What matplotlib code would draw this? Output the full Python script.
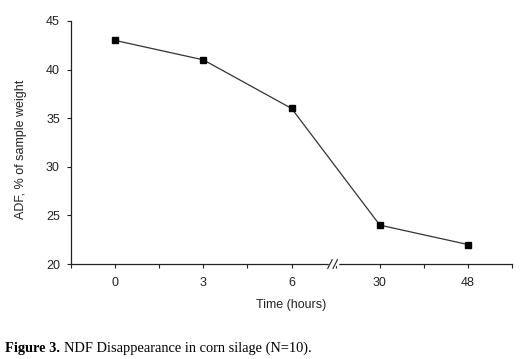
import numpy as np
import matplotlib.pyplot as plt

# data
hours = ['0', '3', '6', '30', '48']
adf = [43, 41, 36, 24, 22]

plt.rcParams['font.family'] = ['Liberation Sans', 'DejaVu Sans']

fig = plt.figure(figsize=(5.2, 3.59), dpi=100)
ax = fig.add_axes([0.1365, 0.2646, 0.8485, 0.677])

x = np.arange(len(hours))
ax.plot(x, adf, color='#333333', lw=0.9, marker='s', ms=4.5,
        mfc='black', mec='black', zorder=3)

ax.set_xlim(-0.5, len(hours) - 0.5)
ax.set_ylim(20, 45)
ax.set_yticks(range(20, 46, 5))
ticks = np.arange(-0.5, len(hours), 0.5)
ax.set_xticks(ticks)
ax.set_xticklabels([hours[int(t)] if t == int(t) else '' for t in ticks])

for s in ['top', 'right']:
    ax.spines[s].set_visible(False)
for s in ['left', 'bottom']:
    ax.spines[s].set_color('#222222')
    ax.spines[s].set_linewidth(0.9)
ax.tick_params(direction='out', length=3, width=0.8, colors='#222222',
               labelsize=9, labelcolor='#222222', pad=5)
ax.tick_params(axis='x', pad=6.5)

ax.set_xlabel('Time (hours)', fontsize=9, color='#222222', labelpad=7)
ax.set_ylabel('ADF, % of sample weight', fontsize=9, color='#222222')
ax.yaxis.set_label_coords(-0.1, 0.473)

# axis break marks between 6 and 30
bx = 2.45
ax.plot([bx - 0.02, bx + 0.06], [20, 20], color='white', lw=2.5,
        clip_on=False, zorder=4)
for dx in (-0.015, 0.045):
    ax.plot([bx + dx - 0.025, bx + dx + 0.025], [19.55, 20.45], color='#222222',
            lw=0.8, clip_on=False, zorder=5)

serif = ['Liberation Serif', 'DejaVu Serif']
t1 = fig.text(0.01, 0.02, 'Figure 3.', family=serif, fontweight='bold', fontsize=10.4)
fig.canvas.draw()
bb = t1.get_window_extent().transformed(fig.transFigure.inverted())
fig.text(bb.x1 + 0.007, 0.02, 'NDF Disappearance in corn silage (N=10).',
         family=serif, fontsize=10.4)

fig.savefig('out.png', dpi=100)
